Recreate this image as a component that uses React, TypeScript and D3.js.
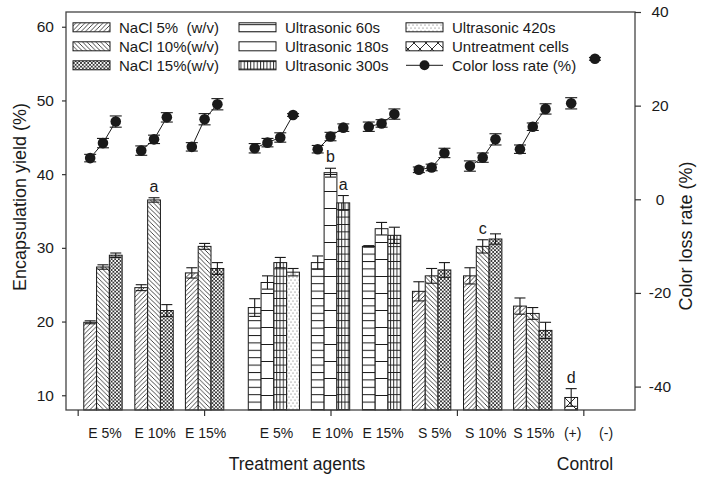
import React, { useEffect, useRef } from "react";
import * as d3 from "d3";

// group order: NaCl E5/E10/E15, Ultrasonic E5/E10/E15, S5/S10/S15, (+), (-)
const groupLabels = ["E 5%", "E 10%", "E 15%", "E 5%", "E 10%", "E 15%", "S 5%", "S 10%", "S 15%", "(+)", "(-)"];
const groupPos = [0.5, 1.51, 2.51, 3.88, 5.0, 6.01, 7.0, 8.01, 9.0, 9.76, 10.23];
const labelPos = [0.54, 1.53, 2.53, 3.93, 5.04, 6.04, 7.06, 8.07, 9.02, 9.79, 10.45];
const xTicks = [0, 2.5, 5, 7.5, 10];

const barPatterns = [
    ["p5", "p10", "p15"],
    ["p5", "p10", "p15"],
    ["p5", "p10", "p15"],
    ["u60", "u180", "u300", "u420"],
    ["u60", "u180", "u300"],
    ["u60", "u180", "u300"],
    ["p5", "p10", "p15"],
    ["p5", "p10", "p15"],
    ["p5", "p10", "p15"],
    ["ctl"],
    [],
];
const barValues = [
    [19.9, 27.4, 29.0],
    [24.6, 36.5, 21.5],
    [26.6, 30.2, 27.2],
    [21.9, 25.3, 28.0, 26.7],
    [28.0, 40.2, 36.1],
    [30.2, 32.6, 31.7],
    [24.1, 26.2, 27.0],
    [26.2, 30.2, 31.2],
    [22.1, 21.1, 18.8],
    [9.7],
    [],
];
const barErrors = [
    [0.2, 0.3, 0.3],
    [0.4, 0.3, 0.8],
    [0.7, 0.4, 0.8],
    [1.2, 0.9, 0.7, 0.5],
    [0.9, 0.6, 1.0],
    [0.1, 0.85, 1.1],
    [1.3, 1.0, 1.0],
    [1.1, 0.9, 0.7],
    [1.1, 0.8, 1.1],
    [1.2],
    [],
];

// color loss rate (%), right axis
const lossValues = [
    [8.8, 12.0, 16.6],
    [10.4, 12.8, 17.5],
    [11.2, 17.1, 20.3],
    [10.9, 12.1, 13.2, 18.0],
    [10.7, 13.4, 15.3],
    [15.5, 16.2, 18.2],
    [6.3, 6.8, 9.9],
    [7.1, 8.9, 12.8],
    [10.7, 15.5, 19.3],
    [20.5],
    [30.0],
];
const lossErrors = [
    [0.8, 1.0, 1.2],
    [1.0, 0.9, 1.0],
    [0.9, 1.2, 1.2],
    [1.0, 0.9, 1.0, 0.3],
    [0.8, 0.9, 0.8],
    [1.0, 0.8, 1.1],
    [0.6, 0.7, 1.0],
    [1.1, 1.0, 1.2],
    [0.9, 0.8, 1.1],
    [1.2],
    [0.3],
];

const letters = [
    { group: 1, bar: 1, text: "a" },
    { group: 4, bar: 1, text: "b" },
    { group: 4, bar: 2, text: "a" },
    { group: 7, bar: 1, text: "c" },
    { group: 9, bar: 0, text: "d" },
];

const legendLabels = [
    "NaCl 5%  (w/v)", "NaCl 10%(w/v)", "NaCl 15%(w/v)",
    "Ultrasonic 60s", "Ultrasonic 180s", "Ultrasonic 300s",
    "Ultrasonic 420s", "Untreatment cells", "Color loss rate (%)",
];
const legendKeys = ["p5", "p10", "p15", "u60", "u180", "u300", "u420", "ctl", "loss"];

const FONT = "Arial, 'Liberation Sans', Helvetica, sans-serif";
const INK = "#1a1a1a";
const BAR_W = 0.253;

const App = () => {
    const leftRef = useRef<SVGGElement>(null);
    const rightRef = useRef<SVGGElement>(null);
    const bottomRef = useRef<SVGGElement>(null);

    const left = 66, right = 635, top = 12, bottom = 410;

    const x = d3.scaleLinear().domain([-0.231, 11.022]).range([left, right]);
    const yL = d3.scaleLinear().domain([8, 62]).range([bottom, top]);
    const yR = d3.scaleLinear().domain([-45, 40]).range([bottom, top]);

    const barX = (g: number, i: number) =>
        groupPos[g] + (i - (barValues[g].length - 1) / 2) * BAR_W;
    const dotX = (g: number, i: number) =>
        barValues[g].length ? barX(g, i) : groupPos[g];

    useEffect(() => {
        const style = (g: d3.Selection<SVGGElement, unknown, null, undefined>) => {
            g.select(".domain").remove();
            g.selectAll("line").attr("stroke", "#333").attr("stroke-width", 1.2);
            g.selectAll("text")
                .attr("font-family", FONT)
                .attr("font-size", 15.5)
                .attr("fill", INK);
        };
        d3.select(leftRef.current!)
            .call(d3.axisLeft(yL).tickValues([10, 20, 30, 40, 50, 60]).tickSize(4).tickPadding(8))
            .call(style);
        const r = d3.select(rightRef.current!)
            .call(d3.axisRight(yR).tickValues([-40, -20, 0, 20, 40]).tickSize(6)
                .tickFormat((d) => String(d)))
            .call(style);
        r.selectAll("text").attr("text-anchor", "middle").attr("x", 25);
        d3.select(bottomRef.current!)
            .call(d3.axisBottom(x).tickValues(xTicks).tickSize(6).tickFormat(() => ""))
            .call(style);
    }, []);

    const line = d3.line<[number, number]>().x((d) => d[0]).y((d) => d[1]);

    const legendIcon = (key: string, x0: number, yc: number) => {
        if (key === "loss") {
            return (
                <g>
                    <line x1={x0} x2={x0 + 37} y1={yc} y2={yc} stroke={INK} strokeWidth={1} />
                    <circle cx={x0 + 18.5} cy={yc} r={5} fill={INK} />
                </g>
            );
        }
        return (
            <rect x={x0} y={yc - 4.5} width={37} height={9}
                fill={`url(#${key})`} stroke={INK} strokeWidth={1} />
        );
    };

    return (
        <svg width={708} height={477} style={{ position: "absolute", left: 0, top: 0, background: "#fff" }}>
            <defs>
                <pattern id="p5" width={4.5} height={4.5} patternUnits="userSpaceOnUse">
                    <rect width={4.5} height={4.5} fill="#fff" />
                    <path d="M0,4.5 L4.5,0 M-1,1 L1,-1 M3.5,5.5 L5.5,3.5" stroke={INK} strokeWidth={0.8} />
                </pattern>
                <pattern id="p10" width={4.5} height={4.5} patternUnits="userSpaceOnUse">
                    <rect width={4.5} height={4.5} fill="#fff" />
                    <path d="M0,0 L4.5,4.5 M-1,3.5 L1,5.5 M3.5,-1 L5.5,1" stroke={INK} strokeWidth={0.8} />
                </pattern>
                <pattern id="p15" width={3.6} height={3.6} patternUnits="userSpaceOnUse">
                    <rect width={3.6} height={3.6} fill="#fff" />
                    <path d="M0,0 L3.6,3.6 M0,3.6 L3.6,0" stroke={INK} strokeWidth={0.8} />
                </pattern>
                <pattern id="u60" width={10} height={7.4} patternUnits="userSpaceOnUse" y={2}>
                    <rect width={10} height={7.4} fill="#fff" />
                    <path d="M0,0.5 H10" stroke={INK} strokeWidth={1} />
                </pattern>
                <pattern id="u180" width={10} height={17} patternUnits="userSpaceOnUse" y={4}>
                    <rect width={10} height={17} fill="#fff" />
                    <path d="M0,0.5 H10" stroke={INK} strokeWidth={1} />
                </pattern>
                <pattern id="u300" width={3.25} height={7.4} patternUnits="userSpaceOnUse" y={2}>
                    <rect width={3.25} height={7.4} fill="#fff" />
                    <path d="M0,0.5 H3.25 M0.5,0 V7.4" stroke={INK} strokeWidth={0.9} />
                </pattern>
                <pattern id="u420" width={4} height={6} patternUnits="userSpaceOnUse">
                    <rect width={4} height={6} fill="#fff" />
                    <circle cx={1} cy={1} r={0.55} fill="#555" />
                    <circle cx={3} cy={4} r={0.55} fill="#555" />
                </pattern>
                <pattern id="ctl" width={12} height={12} patternUnits="userSpaceOnUse" y={1}>
                    <rect width={12} height={12} fill="#fff" />
                    <path d="M0,0 L12,12 M12,0 L0,12" stroke={INK} strokeWidth={0.9} />
                </pattern>
            </defs>

            {/* bars */}
            {barValues.map((vals, g) =>
                vals.map((v, i) => (
                    <rect key={`b${g}-${i}`}
                        x={x(barX(g, i) - BAR_W / 2)}
                        y={yL(v)}
                        width={x(BAR_W) - x(0)}
                        height={yL(8) - yL(v)}
                        fill={`url(#${barPatterns[g][i]})`}
                        stroke={INK} strokeWidth={1} />
                ))
            )}

            {/* bar error bars */}
            {barValues.map((vals, g) =>
                vals.map((v, i) => {
                    const cx = x(barX(g, i));
                    const e = barErrors[g][i];
                    const y1 = yL(v + e), y2 = yL(v - e);
                    return (
                        <g key={`e${g}-${i}`} stroke={INK} strokeWidth={1.1}>
                            <line x1={cx} x2={cx} y1={y1} y2={y2} />
                            <line x1={cx - 5.5} x2={cx + 5.5} y1={y1} y2={y1} />
                            <line x1={cx - 5.5} x2={cx + 5.5} y1={y2} y2={y2} />
                        </g>
                    );
                })
            )}

            {/* significance letters */}
            {letters.map((l, k) => (
                <text key={`l${k}`}
                    x={x(barX(l.group, l.bar))}
                    y={yL(barValues[l.group][l.bar] + barErrors[l.group][l.bar]) - 6}
                    textAnchor="middle" fontFamily={FONT} fontSize={16} fill={INK}>
                    {l.text}
                </text>
            ))}

            {/* color loss rate lines and points */}
            {lossValues.map((vals, g) => (
                <g key={`c${g}`}>
                    <path
                        d={line(vals.map((v, i) => [x(dotX(g, i)), yR(v)])) || ""}
                        fill="none" stroke={INK} strokeWidth={1} />
                    {vals.map((v, i) => {
                        const cx = x(dotX(g, i));
                        const e = lossErrors[g][i];
                        const y1 = yR(v + e), y2 = yR(v - e);
                        return (
                            <g key={i}>
                                <g stroke={INK} strokeWidth={1.1}>
                                    <line x1={cx} x2={cx} y1={y1} y2={y2} />
                                    <line x1={cx - 6} x2={cx + 6} y1={y1} y2={y1} />
                                    <line x1={cx - 6} x2={cx + 6} y1={y2} y2={y2} />
                                </g>
                                <circle cx={cx} cy={yR(v)} r={5.3} fill={INK} />
                            </g>
                        );
                    })}
                </g>
            ))}

            {/* frame */}
            <rect x={left} y={top} width={right - left} height={bottom - top}
                fill="none" stroke="#444" strokeWidth={1.3} />

            <g ref={leftRef} transform={`translate(${left},0)`} />
            <g ref={rightRef} transform={`translate(${right},0)`} />
            <g ref={bottomRef} transform={`translate(0,${bottom})`} />

            {/* category labels */}
            {groupLabels.map((t, g) => (
                <text key={`x${g}`} x={x(labelPos[g])} y={437.5} textAnchor="middle"
                    fontFamily={FONT} fontSize={14} fill={INK}>
                    {t}
                </text>
            ))}
            <text x={297} y={469.5} textAnchor="middle" fontFamily={FONT} fontSize={17.5} fill={INK}>
                Treatment agents
            </text>
            <text x={585} y={469.5} textAnchor="middle" fontFamily={FONT} fontSize={17.5} fill={INK}>
                Control
            </text>

            {/* axis titles */}
            <text transform="translate(26,197) rotate(-90)" textAnchor="middle"
                fontFamily={FONT} fontSize={18} fill={INK}>
                Encapsulation yield (%)
            </text>
            <text transform="translate(692,236) rotate(-90)" textAnchor="middle"
                fontFamily={FONT} fontSize={18} fill={INK}>
                Color loss rate (%)
            </text>

            {/* legend */}
            {legendLabels.map((t, i) => {
                const col = Math.floor(i / 3);
                const row = i % 3;
                const x0 = [73, 239, 406][col];
                const yc = 27.3 + row * 19;
                return (
                    <g key={`lg${i}`}>
                        {legendIcon(legendKeys[i], x0, yc)}
                        <text x={x0 + 46} y={yc + 5.3} fontFamily={FONT} fontSize={15}
                            fill={INK} style={{ whiteSpace: "pre" }}>
                            {t}
                        </text>
                    </g>
                );
            })}
        </svg>
    );
};

export default App;
